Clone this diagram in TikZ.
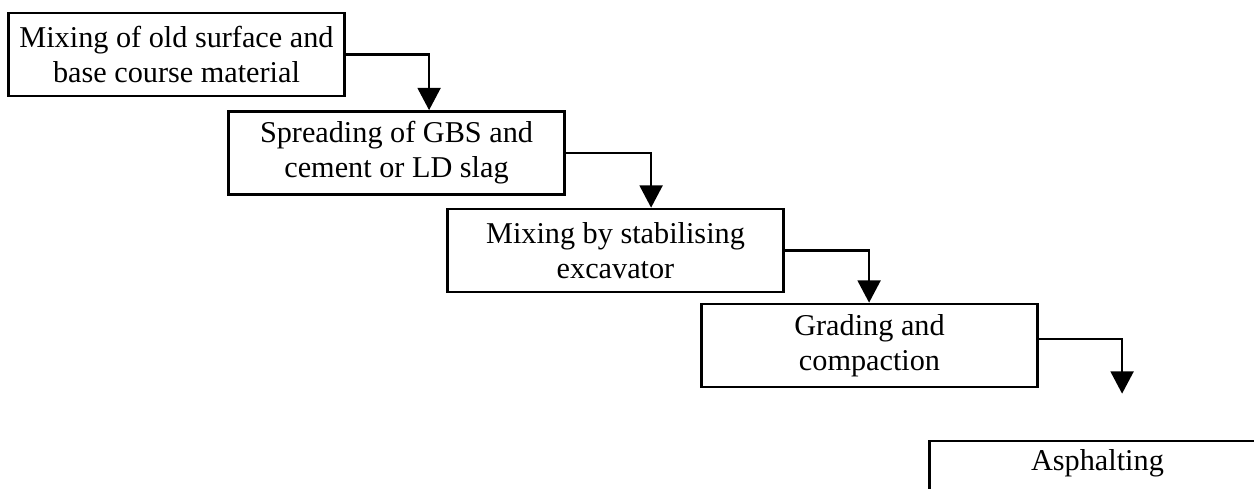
\documentclass[tikz,border=0pt]{standalone}
\usepackage{fontspec}
\setmainfont{Liberation Serif}
\usetikzlibrary{arrows.meta,calc}
\begin{document}
\begin{tikzpicture}[x=0.01cm,y=-0.01cm,
  stepbox/.style={draw=black,line width=0.75pt,fill=white,rectangle,
    minimum width=3.36cm,minimum height=0.83cm,inner sep=0pt,
    align=center,font=\fontsize{8.6pt}{10pt}\selectfont},
  flow/.style={line width=0.6pt,-{Triangle[width=6.5pt,length=6.3pt]}}]
  \clip (0,0) rectangle (1254,489);
  \fill[white] (0,0) rectangle (1254,489);

  % process steps
  \node[stepbox] (b1) at (176.5,54.5) {Mixing of old surface and\\base course material};
  \node[stepbox] (b2) at (396.5,153) {Spreading of GBS and\\cement or LD slag};
  \node[stepbox] (b3) at (615.5,250.5) {Mixing by stabilising\\excavator};
  \node[stepbox] (b4) at (869.5,345.5) {Grading and\\compaction};
  \node[stepbox] (b5) at (1097.5,482.5) {Asphalting\\\strut};

  % arrow targets on the top edges
  \coordinate (t1) at ($(b2.north west)+(202,0)$);
  \coordinate (t2) at ($(b3.north west)+(205,0)$);
  \coordinate (t3) at ($(b4.north west)+(169,0)$);
  \coordinate (t4) at ($(b5.north west)+(194,-46)$);

  % connectors
  \draw[flow] (b1.east) -| (t1);
  \draw[flow] (b2.east) -| (t2);
  \draw[flow] (b3.east) -| (t3);
  \draw[flow] ($(b4.east)+(0,-6.5)$) -| (t4);
\end{tikzpicture}
\end{document}
